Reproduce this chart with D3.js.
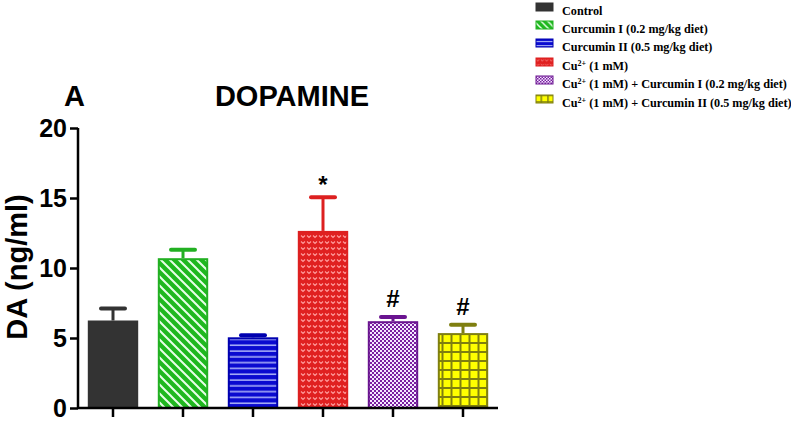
<!DOCTYPE html>
<html><head><meta charset="utf-8">
<script src="https://cdn.jsdelivr.net/npm/d3@7"></script>
<style>body{margin:0;background:#fff}svg{display:block}</style>
</head><body>
<svg id="c" width="791" height="421"></svg>
<script>
const groups = ["Control","Curcumin I (0.2 mg/kg diet)","Curcumin II (0.5 mg/kg diet)","Cu2+ (1 mM)","Cu2+ (1 mM) + Curcumin I (0.2 mg/kg diet)","Cu2+ (1 mM) + Curcumin II (0.5 mg/kg diet)"];
const legendLabels = [
  [["Control",false]],
  [["Curcumin I (0.2 mg/kg diet)",false]],
  [["Curcumin II (0.5 mg/kg diet)",false]],
  [["Cu",false],["2+",true],[" (1 mM)",false]],
  [["Cu",false],["2+",true],[" (1 mM) + Curcumin I (0.2 mg/kg diet)",false]],
  [["Cu",false],["2+",true],[" (1 mM) + Curcumin II (0.5 mg/kg diet)",false]]
];
const means = [6.25, 10.7, 5.05, 12.65, 6.2, 5.35];
const errs = [0.85, 0.6, 0.15, 2.4, 0.3, 0.6];
const marks = ["", "", "", "*", "#", "#"];
const yTicks = [0, 5, 10, 15, 20];
const fills = ["#333333","#1fb81f","#0a0ad0","#e02020","#7a1fa0","#ffff00"];
const strokes = ["#333333","#22b022","#0000b0","#dd2020","#6a1490","#7f7f10"];
const pats = ["solid","diag","horiz","heart","check","grid"];

const svg = d3.select("#c");
const defs = svg.append("defs");
function makePatterns(suffix, s) {
  let p = defs.append("pattern").attr("id","diag"+suffix).attr("patternUnits","userSpaceOnUse")
    .attr("width",9*s).attr("height",9*s);
  p.append("rect").attr("width",9*s).attr("height",9*s).attr("fill",fills[1]);
  p.append("path").attr("d",`M0,0L${9*s},${9*s}M${-4.5*s},${4.5*s}L${4.5*s},${13.5*s}M${4.5*s},${-4.5*s}L${13.5*s},${4.5*s}`)
    .attr("stroke","#e8ffe8").attr("stroke-width",2*s);
  p = defs.append("pattern").attr("id","horiz"+suffix).attr("patternUnits","userSpaceOnUse")
    .attr("width",10).attr("height",5.8*s);
  p.append("rect").attr("width",10).attr("height",5.8*s).attr("fill",fills[2]);
  p.append("rect").attr("y",2.4*s).attr("width",10).attr("height",1.3*s).attr("fill","#c8d0ff");
  p = defs.append("pattern").attr("id","heart"+suffix).attr("patternUnits","userSpaceOnUse")
    .attr("width",6*s).attr("height",6*s);
  p.append("rect").attr("width",6*s).attr("height",6*s).attr("fill",fills[3]);
  p.append("path").attr("d",`M${1*s},${1.5*s}L${3*s},${3.5*s}L${5*s},${1.5*s}`).attr("fill","none")
    .attr("stroke","#ff9a9a").attr("stroke-width",1.1*s);
  p = defs.append("pattern").attr("id","check"+suffix).attr("patternUnits","userSpaceOnUse")
    .attr("width",4*s).attr("height",4*s);
  p.append("rect").attr("width",4*s).attr("height",4*s).attr("fill","#f4e8ff");
  p.append("rect").attr("width",2*s).attr("height",2*s).attr("fill",fills[4]);
  p.append("rect").attr("x",2*s).attr("y",2*s).attr("width",2*s).attr("height",2*s).attr("fill",fills[4]);
  p = defs.append("pattern").attr("id","grid"+suffix).attr("patternUnits","userSpaceOnUse")
    .attr("width",9*s).attr("height",9*s).attr("x",0.5).attr("y",0);
  p.append("rect").attr("width",9*s).attr("height",9*s).attr("fill",strokes[5]);
  p.append("rect").attr("x",2*s).attr("y",2*s).attr("width",7*s).attr("height",7*s).attr("fill",fills[5]);
}
makePatterns("", 1);
makePatterns("L", 0.75);
function fillFor(i, suf) { return pats[i]==="solid" ? fills[0] : `url(#${pats[i]}${suf})`; }

const font = "Liberation Sans, Arial, sans-serif";
const x0 = 78, yBase = 408;
const x = d3.scaleBand().domain(groups).range([x0, x0 + 70*6]).paddingInner(0.28).paddingOuter(0.14);
const y = d3.scaleLinear().domain([0, 20]).range([yBase, 128]);

const g = svg.append("g");
groups.forEach((gr, i) => {
  const bx = x(gr), bw = x.bandwidth(), cx = bx + bw/2;
  g.append("line").attr("x1",cx).attr("x2",cx).attr("y1",y(means[i])).attr("y2",y(means[i]+errs[i]))
    .attr("stroke",strokes[i]).attr("stroke-width",3);
  g.append("line").attr("x1",cx-12).attr("x2",cx+12).attr("y1",y(means[i]+errs[i])).attr("y2",y(means[i]+errs[i]))
    .attr("stroke",strokes[i]).attr("stroke-width",4).attr("stroke-linecap","round");
  g.append("rect").attr("x",bx+1).attr("y",y(means[i])+1).attr("width",bw-2).attr("height",yBase-y(means[i])-1)
    .attr("fill",fillFor(i,"")).attr("stroke",strokes[i]).attr("stroke-width",2);
  if (marks[i]) {
    const top = y(means[i]+errs[i]);
    g.append("text").attr("x",cx).attr("y", marks[i]==="*" ? top-4 : top-10)
      .attr("text-anchor","middle").attr("font-family",font)
      .attr("font-weight","bold").attr("font-size", 24)
      .text(marks[i]);
  }
});

const ya = svg.append("g").attr("transform",`translate(${x0},0)`)
  .call(d3.axisLeft(y).tickValues(yTicks).tickSize(8).tickPadding(3));
ya.select(".domain").attr("stroke","#000").attr("stroke-width",2.5).attr("d",`M0,${yBase}V${y(20)}`);
ya.selectAll(".tick line").attr("stroke","#000").attr("stroke-width",2.5);
ya.selectAll(".tick text").attr("font-family",font).attr("font-weight","bold")
  .attr("font-size",25).attr("fill","#000");

const xa = svg.append("g").attr("transform",`translate(0,${yBase})`)
  .call(d3.axisBottom(x).tickSize(9).tickFormat(""));
xa.select(".domain").attr("stroke","#000").attr("stroke-width",2.5).attr("d",`M${x0},0H498`);
xa.selectAll(".tick line").attr("stroke","#000").attr("stroke-width",2.5);

svg.append("text").attr("transform",`translate(27,${y(10)-1}) rotate(-90)`).attr("text-anchor","middle")
  .attr("font-family",font).attr("font-weight","bold").attr("font-size",29)
  .text("DA (ng/ml)");

svg.append("text").attr("x",64).attr("y",106).attr("font-family",font)
  .attr("font-weight","bold").attr("font-size",29).text("A");
svg.append("text").attr("x",292).attr("y",106).attr("text-anchor","middle").attr("font-family",font)
  .attr("font-weight","bold").attr("font-size",29).text("DOPAMINE");

const leg = svg.append("g");
const legY = [7, 25, 43, 62, 80, 99];
legendLabels.forEach((parts, i) => {
  leg.append("rect").attr("x",536).attr("y",legY[i]-4).attr("width",17).attr("height",8)
    .attr("fill",fillFor(i,"L")).attr("stroke",strokes[i]).attr("stroke-width",1);
  const t = leg.append("text").attr("x",562).attr("y",legY[i]+4)
    .attr("font-family","Liberation Serif, Times New Roman, serif").attr("font-weight","bold").attr("font-size",12.2);
  parts.forEach(([s, sup]) => {
    if (sup) t.append("tspan").attr("font-size",8).attr("dy",-4).text(s);
    else t.append("tspan").attr("dy", t.selectAll("tspan").size() ? 4 : 0).text(s);
  });
});
</script>
</body></html>
